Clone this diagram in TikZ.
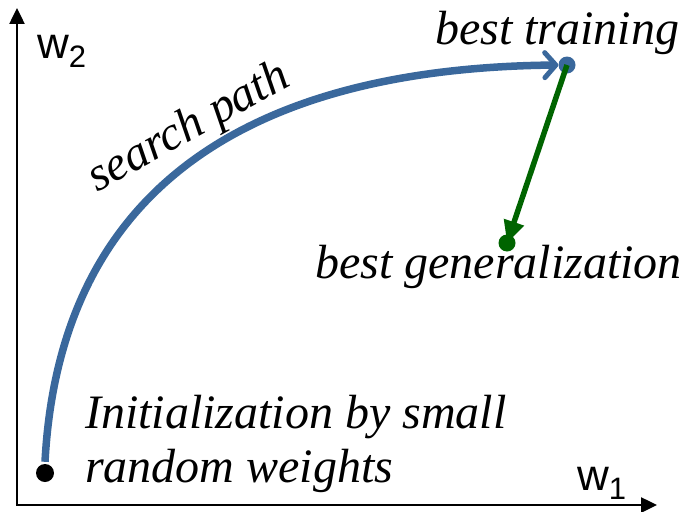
\documentclass[tikz,border=0pt]{standalone}
\usepackage{fontspec}
\setmainfont{Liberation Serif}
\setsansfont{Liberation Sans}
\usetikzlibrary{arrows.meta}
\definecolor{pathblue}{HTML}{3A689C}
\definecolor{gengreen}{HTML}{006400}
\begin{document}
\begin{tikzpicture}[x=1pt,y=-1pt,
  lbl/.style={inner sep=0pt, anchor=base west, font=\fontsize{48}{54}\selectfont\itshape},
  axislbl/.style={inner sep=0pt, anchor=base west, font=\sffamily\fontsize{44}{44}\selectfont},
  axisline/.style={line width=2.5pt, -{Triangle[length=16pt,width=15pt]}},
  dot/.style={circle, inner sep=0pt, minimum size=#1}]
\useasboundingbox (0,0) rectangle (684,511);

% axes
\coordinate (O) at (17,505);
\coordinate (ytop) at (17,8);
\coordinate (xend) at (657,505);
\draw[axisline] ([yshift=1.25pt]O) -- (ytop);
\draw[axisline] ([xshift=-1.25pt]O) -- (xend);
\node[axislbl] (w2) at (37,59) {w\raisebox{-9pt}{\fontsize{31}{31}\selectfont 2}};
\node[axislbl] (w1) at (577,490) {w\raisebox{-9pt}{\fontsize{31}{31}\selectfont 1}};

% points
\node[dot=18pt, fill=black] (start) at (45,473) {};
\node[dot=17pt, fill=pathblue] (train) at (567,65) {};
\node[dot=17pt, fill=gengreen] (gen) at (507,243) {};

% search path and move to best generalization
\draw[pathblue, line width=7.5pt, line cap=butt,
      -{Straight Barb[length=11pt,width=25pt,line width=5pt,round]}]
  ([yshift=2pt]start.north) .. controls (60,180) and (260,68) .. (train.west);
\draw[gengreen, line width=5.5pt, -{Triangle[length=22pt,width=20pt]}]
  (train.center) -- (gen.center);

% labels
\node[lbl] (bt) at (435,45) {best training};
\node[lbl] (bg) at (315,278) {best generalization};
\node[lbl, rotate=29] (sp) at (97,193) {search path};
\node[lbl] (init1) at (85,428) {Initialization by small};
\node[lbl] (init2) at (85,482) {random weights};
\end{tikzpicture}
\end{document}
